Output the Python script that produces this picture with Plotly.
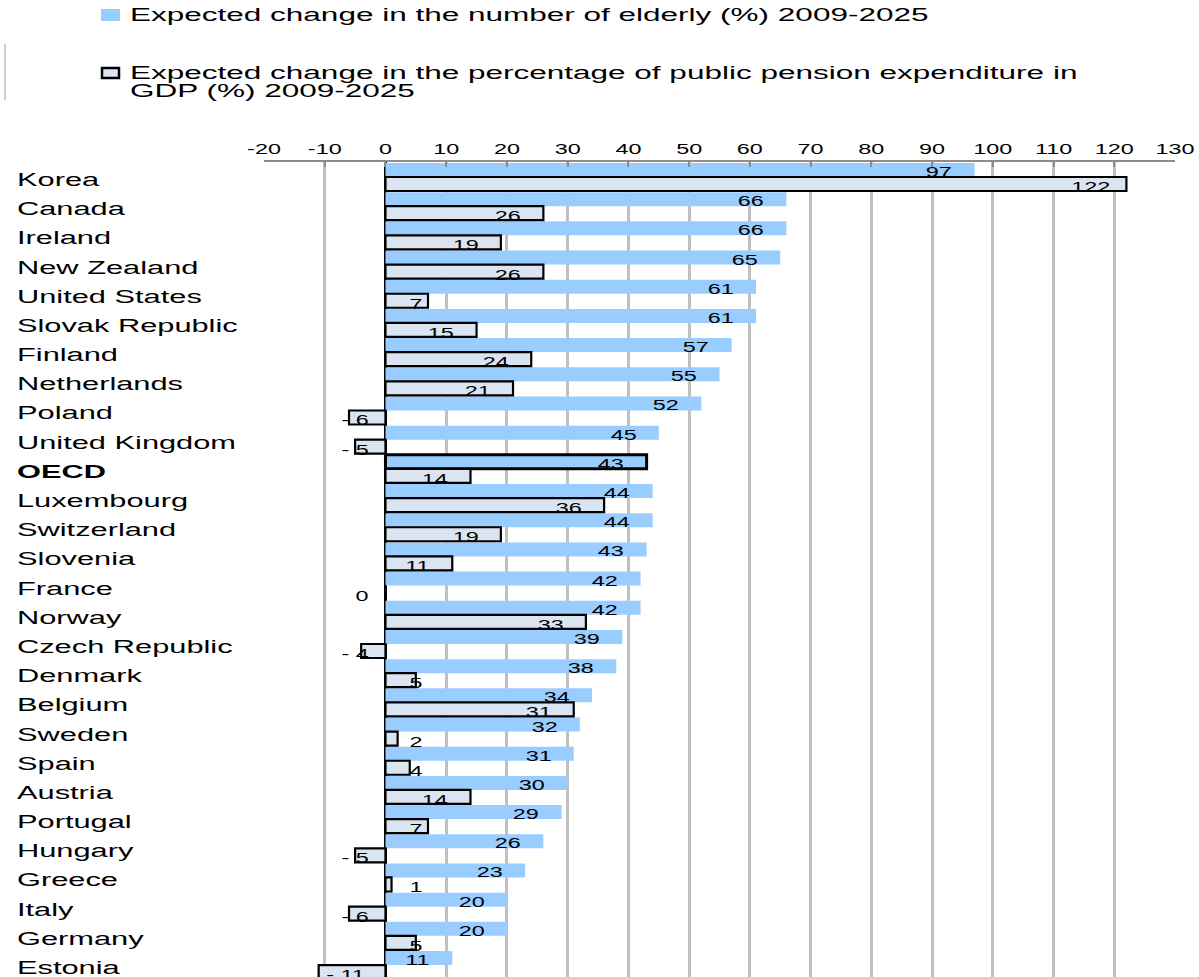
import json
import plotly.graph_objects as go

# Countries, top to bottom
countries = [
    "Korea", "Canada", "Ireland", "New Zealand", "United States",
    "Slovak Republic", "Finland", "Netherlands", "Poland", "United Kingdom",
    "OECD", "Luxembourg", "Switzerland", "Slovenia", "France", "Norway",
    "Czech Republic", "Denmark", "Belgium", "Sweden", "Spain", "Austria",
    "Portugal", "Hungary", "Greece", "Italy", "Germany", "Estonia",
]

# Expected change in the number of elderly (%) 2009-2025
elderly_change = [97, 66, 66, 65, 61, 61, 57, 55, 52, 45, 43, 44, 44, 43,
                  42, 42, 39, 38, 34, 32, 31, 30, 29, 26, 23, 20, 20, 11]

# Expected change in public pension expenditure as % of GDP (%) 2009-2025
pension_change = [122, 26, 19, 26, 7, 15, 24, 21, -6, -5, 14, 36, 19, 11,
                  0, 33, -4, 5, 31, 2, 4, 14, 7, -5, 1, -6, 5, -11]

x_ticks = list(range(-20, 131, 10))
x_tick_labels = [str(t) for t in x_ticks]

name_elderly = "Expected change in the number of elderly (%) 2009-2025"
name_pension_1 = "Expected change in the percentage of public pension expenditure in"
name_pension_2 = "GDP (%) 2009-2025"

FONT = "Liberation Sans, Arial, sans-serif"
BLUE = "#99ccff"
PALE = "#dbe5f1"
highlight = "OECD"

W, H = 1199, 977
ML, MR, MT, MB = 264, 24, 162, 0
PW, PH = W - ML - MR, H - MT - MB

# horizontal widening applied to each kind of text
WIDEN_VALUE, WIDEN_NAME, WIDEN_LEGEND, WIDEN_TICK = 1.67, 1.71, 1.75, 1.67


def px(x):
    """page x pixel -> paper fraction"""
    return (x - ML) / PW


def py(y):
    """page y pixel -> paper fraction"""
    return (H - MB - y) / PH


fig = go.Figure()
fig.add_trace(go.Bar(
    y=countries, x=elderly_change, orientation="h", name=name_elderly,
    marker=dict(color=BLUE,
                line=dict(color="black",
                          width=[3 if c == highlight else 0 for c in countries])),
    showlegend=False,
))
fig.add_trace(go.Bar(
    y=countries, x=pension_change, orientation="h",
    name=name_pension_1 + " " + name_pension_2,
    marker=dict(color=PALE, line=dict(color="black", width=2.2)),
    showlegend=False,
))


def label_x(v):
    # value labels sit just inside the end of each bar
    if v > 0:
        return max(v - 5.8, 5.0)
    if v == 0:
        return -3.8
    return min(v + 4.4, -5.0)


def label_text(v):
    return f"- {abs(v)}" if v < 0 else f"{v}"


annotations, widen = [], []
for c, v in zip(countries, elderly_change):
    annotations.append(dict(
        x=label_x(v), y=c, xref="x", yref="y", text=label_text(v),
        showarrow=False, xanchor="center", yanchor="middle", yshift=5,
        font=dict(family=FONT, size=14, color="black"),
    ))
    widen.append(WIDEN_VALUE)
for c, v in zip(countries, pension_change):
    annotations.append(dict(
        x=label_x(v), y=c, xref="x", yref="y", text=label_text(v),
        showarrow=False, xanchor="center", yanchor="middle", yshift=-10,
        font=dict(family=FONT, size=14, color="black"),
    ))
    widen.append(WIDEN_VALUE)

# Left-aligned country names
for c in countries:
    txt = f"<b>{c}</b>" if c == highlight else c
    annotations.append(dict(
        x=px(15), y=c, xref="paper", yref="y", text=txt,
        showarrow=False, xanchor="left", align="left", yanchor="middle",
        yshift=-3, font=dict(family=FONT, size=18, color="black"),
    ))
    widen.append(WIDEN_NAME)

# Legend drawn as key boxes plus text
legend_font = dict(family=FONT, size=18, color="black")
for text, y in [(name_elderly, 15), (name_pension_1, 73), (name_pension_2, 91)]:
    annotations.append(dict(
        x=px(128), y=py(y), xref="paper", yref="paper", text=text,
        showarrow=False, xanchor="left", align="left", yanchor="middle",
        font=legend_font))
    widen.append(WIDEN_LEGEND)

shapes = [
    dict(type="rect", xref="paper", yref="paper",
         x0=px(101), x1=px(120), y0=py(21), y1=py(9),
         fillcolor=BLUE, line=dict(width=0)),
    dict(type="rect", xref="paper", yref="paper",
         x0=px(102), x1=px(119), y0=py(78), y1=py(68),
         fillcolor=PALE, line=dict(color="black", width=2.5)),
    dict(type="line", xref="paper", yref="paper",
         x0=px(5), x1=px(5), y0=py(100), y1=py(44),
         line=dict(color="#c8d0de", width=2)),
]

fig.update_layout(
    width=W, height=H,
    margin=dict(l=ML, r=MR, t=MT, b=MB, pad=0, autoexpand=False),
    paper_bgcolor="white", plot_bgcolor="white",
    barmode="group", bargap=0.04, bargroupgap=0,
    showlegend=False,
    font=dict(family=FONT, size=14, color="black"),
    xaxis=dict(
        side="top", range=[-20, 130], tickvals=x_ticks, ticktext=x_tick_labels,
        showgrid=True, gridcolor="#c0c0c0", gridwidth=3,
        showline=True, linecolor="#8c8c8c", linewidth=2,
        ticks="inside", ticklen=5, tickwidth=2, tickcolor="#8c8c8c",
        zeroline=True, zerolinecolor="black", zerolinewidth=3,
        tickfont=dict(family=FONT, size=14, color="black"),
        ticklabelstandoff=0,
    ),
    yaxis=dict(
        categoryorder="array", categoryarray=countries,
        range=[27.41, -0.514], showticklabels=False,
        showgrid=False, zeroline=False, showline=False, ticks="",
    ),
    annotations=annotations,
    shapes=shapes,
)

# Stretch the glyphs of every text horizontally (wide lettering)
widen_js = """
var gd = document.getElementById('{plot_id}');
var F = %s;
function stretch(t, f) {
  var L = t.getComputedTextLength();
  if (L > 0) {
    t.setAttribute('textLength', (L * f).toFixed(1));
    t.setAttribute('lengthAdjust', 'spacingAndGlyphs');
  }
}
gd.querySelectorAll('g.annotation').forEach(function (g) {
  var i = +g.getAttribute('data-index');
  var t = g.querySelector('text.annotation-text');
  if (t && F[i]) stretch(t, F[i]);
});
gd.querySelectorAll('.xtick text').forEach(function (t) { stretch(t, %s); });
""" % (json.dumps(widen), WIDEN_TICK)

fig.write_html("out.html", post_script=widen_js)
